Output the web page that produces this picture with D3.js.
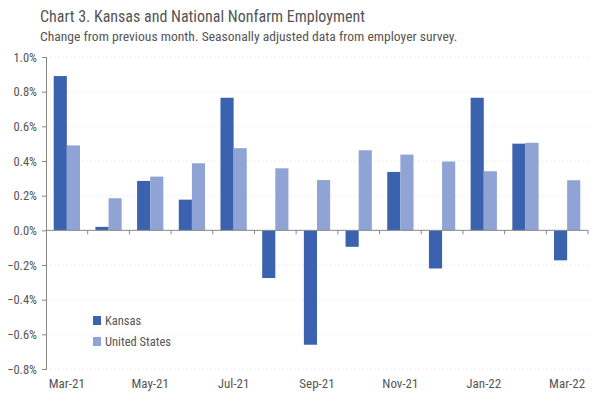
<!DOCTYPE html>
<html>
<head>
<meta charset="utf-8">
<script src="https://cdn.jsdelivr.net/npm/d3@7"></script>
<style>
  body { margin: 0; background: #fff; }
  svg text { font-family: "Liberation Sans Narrow", "Arial Narrow", "Roboto Condensed", sans-serif; }
</style>
</head>
<body>
<svg id="chart"></svg>
<script>
const months = ["Mar-21","Apr-21","May-21","Jun-21","Jul-21","Aug-21","Sep-21","Oct-21","Nov-21","Dec-21","Jan-22","Feb-22","Mar-22"];
const kansas = [0.89, 0.02, 0.285, 0.177, 0.765, -0.275, -0.66, -0.095, 0.337, -0.22, 0.765, 0.50, -0.173];
const unitedStates = [0.49, 0.185, 0.31, 0.387, 0.474, 0.358, 0.29, 0.462, 0.437, 0.397, 0.341, 0.505, 0.289];
const yTicks = [-0.8, -0.6, -0.4, -0.2, 0, 0.2, 0.4, 0.6, 0.8, 1.0];
const seriesNames = ["Kansas", "United States"];
const colors = ["#3A62AE", "#8FA3D5"];

const width = 600, height = 399;
const margin = {top: 57, right: 12, bottom: 30, left: 46};
const innerW = 588 - margin.left;
const innerH = 369 - margin.top;

const svg = d3.select("#chart").attr("width", width).attr("height", height);

svg.append("text").attr("x", 40).attr("y", 22)
  .attr("font-size", 16).attr("fill", "#555")
  .text("Chart 3. Kansas and National Nonfarm Employment");
svg.append("text").attr("x", 40).attr("y", 41)
  .attr("font-size", 13.6).attr("fill", "#555")
  .text("Change from previous month. Seasonally adjusted data from employer survey.");

const g = svg.append("g").attr("transform", `translate(${margin.left},${margin.top})`);

const y = d3.scaleLinear().domain([-0.8, 1.0]).range([innerH, 0]);
const x0 = d3.scaleBand().domain(months).range([0, innerW])
  .paddingInner(0.37).paddingOuter(0.185);
const x1 = d3.scaleBand().domain(seriesNames).range([0, x0.bandwidth()]);
const step = x0.step();

// faint grid
g.selectAll(".grid").data(yTicks.filter(d => d !== 0)).enter().append("line")
  .attr("x1", 0).attr("x2", innerW)
  .attr("y1", d => y(d)).attr("y2", d => y(d))
  .attr("stroke", "#eeeeee").attr("stroke-dasharray", "2,2");

// bars
const rows = months.map((m, i) => ({m, vals: [kansas[i], unitedStates[i]]}));
const grp = g.selectAll(".grp").data(rows).enter().append("g")
  .attr("transform", d => `translate(${x0(d.m)},0)`);
grp.selectAll("rect").data(d => d.vals.map((v, j) => ({v, s: seriesNames[j], j})))
  .enter().append("rect")
  .attr("x", d => x1(d.s))
  .attr("width", x1.bandwidth())
  .attr("y", d => y(Math.max(0, d.v)))
  .attr("height", d => Math.abs(y(d.v) - y(0)))
  .attr("fill", d => colors[d.j]);

// y axis
const yAxis = d3.axisLeft(y).tickValues(yTicks).tickSize(4)
  .tickFormat(d => d3.format(".1f")(d) + "%");
const ya = g.append("g").call(yAxis);
ya.select(".domain").attr("stroke", "#888");
ya.selectAll(".tick line").attr("stroke", "#888");
ya.selectAll(".tick text").attr("font-size", 12.5).attr("fill", "#555").attr("x", -9);

// x axis at zero
const xa = g.append("g").attr("transform", `translate(0,${y(0)})`);
xa.append("line").attr("x1", 0).attr("x2", innerW).attr("stroke", "#888");
xa.selectAll(".xt").data(d3.range(1, months.length + 1)).enter().append("line")
  .attr("x1", i => i * step).attr("x2", i => i * step)
  .attr("y1", 0).attr("y2", 4).attr("stroke", "#888");

// x labels at bottom
g.selectAll(".xl").data(months.filter((m, i) => i % 2 === 0)).enter().append("text")
  .attr("x", d => x0(d) + x0.bandwidth() / 2)
  .attr("y", innerH + 19)
  .attr("text-anchor", "middle").attr("font-size", 13).attr("fill", "#555")
  .text(d => d);

// legend
const leg = svg.append("g").attr("transform", "translate(93,316)");
seriesNames.forEach((s, i) => {
  leg.append("rect").attr("x", 0).attr("y", i * 21).attr("width", 8).attr("height", 9).attr("fill", colors[i]);
  leg.append("text").attr("x", 12).attr("y", i * 21 + 9).attr("font-size", 12.5).attr("fill", "#555").text(s);
});
</script>
</body>
</html>
